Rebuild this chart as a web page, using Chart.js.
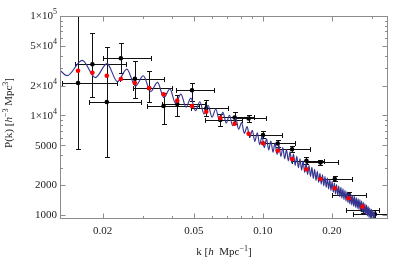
<!DOCTYPE html>
<html>
<head>
<meta charset="utf-8">
<script src="https://cdn.jsdelivr.net/npm/chart.js@4.4.1/dist/chart.umd.min.js"></script>
<style>
  html, body { margin: 0; padding: 0; background: #fff; }
</style>
</head>
<body>
<canvas id="pkChart" width="395" height="260"></canvas>
<script>
// band powers (black points with errors)
const kBins = [0.01563, 0.01805, 0.02086, 0.02402, 0.02765, 0.03192, 0.03686, 0.0423, 0.04904, 0.05662, 0.06518,
  0.07527, 0.08664, 0.1001, 0.1160, 0.1340, 0.1548, 0.1782, 0.2057, 0.2368, 0.2718, 0.3076];
const kLow = [0.01331, 0.01521, 0.01751, 0.02016, 0.02378, 0.02718, 0.03119, 0.03638, 0.04188, 0.04870, 0.05606,
  0.06518, 0.07504, 0.08664, 0.1001, 0.1162, 0.1340, 0.1559, 0.1791, 0.2010, 0.2314, 0.2458];
const kHigh = [0.02314, 0.02533, 0.02954, 0.03247, 0.03712, 0.04023, 0.05262, 0.05606, 0.06094, 0.07015, 0.08107,
  0.09175, 0.1035, 0.1210, 0.1386, 0.1600, 0.1842, 0.2135, 0.2451, 0.2801, 0.3202, 0.36];
const pData = [21210, 32700, 13670, 37570, 23430, 18760, 12460, 13050, 17910, 11760, 9008,
  9547, 9329, 6369, 5233, 4573, 3513, 3370, 2300, 1600, 1123, 1016];
const pLow = [4554, 15450, 3802, 26920, 14990, 13570, 8119, 9953, 13990, 9884, 7751,
  8214, 8603, 5873, 4824, 4249, 3254, 3180, 2171, 1499, 1047, 933];
const pHigh = [130000, 67010, 48470, 53170, 35540, 28000, 16720, 16180, 21070, 14310, 10350,
  10720, 10230, 6906, 5605, 4880, 3802, 3570, 2437, 1703, 1203, 1115];

// binned model (red points)
const kModel = [0.01563, 0.01805, 0.02086, 0.02402, 0.02765, 0.03192, 0.03686, 0.0423, 0.04904, 0.05662, 0.06518,
  0.07527, 0.08664, 0.1001, 0.1160, 0.1340, 0.1548, 0.1782, 0.2057, 0.2368, 0.2718];
const pModel = [28200, 26920, 25120, 23270, 21210, 18890, 16330, 14090, 12460, 10920, 9438,
  8271, 6563, 5257, 4427, 3654, 2879, 2300, 1855, 1472, 1212];

// oscillating model curve (peaks and troughs)
const kCurve = [0.0130, 0.0140, 0.0163, 0.0186, 0.0209, 0.0232, 0.0255, 0.0278, 0.0301, 0.0324, 0.0347,
  0.0370, 0.0393, 0.0416, 0.0439, 0.0462, 0.0485, 0.0508, 0.0531, 0.0554, 0.0577,
  0.0600, 0.0623, 0.0646, 0.0669, 0.0692, 0.0715, 0.0738, 0.0761, 0.0784, 0.0807,
  0.0830, 0.0853, 0.0876, 0.0899, 0.0922, 0.0945, 0.0968, 0.0991, 0.1014, 0.1037,
  0.1060, 0.1083, 0.1106, 0.1129, 0.1152, 0.1175, 0.1198, 0.1221, 0.1244, 0.1267,
  0.1290, 0.1313, 0.1336, 0.1359, 0.1382, 0.1405, 0.1428, 0.1451, 0.1474, 0.1497,
  0.1520, 0.1543, 0.1566, 0.1589, 0.1612, 0.1635, 0.1658, 0.1681, 0.1704, 0.1727,
  0.1750, 0.1773, 0.1796, 0.1819, 0.1842, 0.1865, 0.1888, 0.1911, 0.1934, 0.1957,
  0.1980, 0.2003, 0.2026, 0.2049, 0.2072, 0.2095, 0.2118, 0.2141, 0.2164, 0.2187,
  0.2210, 0.2233, 0.2256, 0.2279, 0.2302, 0.2325, 0.2348, 0.2371, 0.2394, 0.2417,
  0.2440, 0.2463, 0.2486, 0.2509, 0.2532, 0.2555, 0.2578, 0.2601, 0.2624, 0.2647,
  0.2670, 0.2693, 0.2716, 0.2739, 0.2762, 0.2785, 0.2808, 0.2831, 0.2854, 0.2877,
  0.2900, 0.2923, 0.2946, 0.2969, 0.2992, 0.3015, 0.3038, 0.3061, 0.3084];
const pCurve = [28700, 25130, 35790, 24020, 33230, 21910, 29220, 19750, 25100, 17410, 21540,
  15110, 18540, 13260, 16390, 12110, 14970, 11170, 13740, 10350, 12630,
  9614, 11630, 8935, 10760, 8385, 10060, 7879, 9346, 7256, 8486,
  6617, 7716, 6048, 7096, 5492, 6686, 5085, 6179, 4744, 5837,
  4507, 5546, 4282, 5267, 4068, 5006, 3869, 4761, 3680, 4530,
  3500, 4310, 3329, 4091, 3154, 3875, 2986, 3669, 2827, 3474,
  2678, 3292, 2546, 3144, 2434, 3005, 2327, 2872, 2225, 2747,
  2127, 2627, 2039, 2527, 1964, 2434, 1892, 2345, 1823, 2258,
  1756, 2176, 1691, 2096, 1631, 2025, 1576, 1957, 1524, 1891,
  1473, 1828, 1424, 1767, 1376, 1707, 1330, 1651, 1292, 1610,
  1259, 1570, 1227, 1530, 1196, 1491, 1166, 1454, 1137, 1417,
  1108, 1381, 1080, 1341, 1045, 1297, 1011, 1256, 978, 1215,
  947, 1175, 916, 1137, 890, 1110, 869, 1083, 848];

// axis ticks
const xTicks = [0.02, 0.05, 0.1, 0.2];
const xTickLabels = ['0.02', '0.05', '0.10', '0.20'];
const xMinor = [0.03, 0.04, 0.06, 0.07, 0.08, 0.09, 0.3];
const yTicks = [1000, 2000, 5000, 10000, 20000, 50000, 100000];
const yTickLabels = ['1000', '2000', '5000', '1\u00d710^4', '2\u00d710^4', '5\u00d710^4', '1\u00d710^5'];
const yMinor = [3000, 4000, 6000, 7000, 8000, 9000, 30000, 40000, 60000, 70000, 80000, 90000];

const SERIF = "'Liberation Serif', 'DejaVu Serif', serif";

// text runs: [text, 'n'|'i'|'s'] (normal, italic, superscript)
function fontFor(kind) {
  if (kind === 'i') return 'italic 11px ' + SERIF;
  if (kind === 's') return '8px ' + SERIF;
  return '11px ' + SERIF;
}
function piecesWidth(ctx, pieces) {
  let w = 0;
  pieces.forEach(p => {
    ctx.font = fontFor(p[1]);
    w += ctx.measureText(p[0]).width;
  });
  return w;
}
function drawPieces(ctx, pieces, x, y) {
  pieces.forEach(p => {
    ctx.font = fontFor(p[1]);
    ctx.fillText(p[0], x, p[1] === 's' ? y - 4.5 : y);
    x += ctx.measureText(p[0]).width;
  });
}
function labelPieces(s) {
  const parts = s.split('^');
  return parts.length > 1 ? [[parts[0], 'n'], [parts[1], 's']] : [[s, 'n']];
}

const errorBars = {
  id: 'errorBars',
  beforeDatasetsDraw(chart) {
    const { ctx, chartArea: a, scales: { x, y } } = chart;
    ctx.save();
    ctx.beginPath();
    ctx.rect(a.left, a.top, a.right - a.left, a.bottom - a.top);
    ctx.clip();
    ctx.strokeStyle = '#111';
    ctx.lineWidth = 1;
    for (let i = 0; i < kBins.length; i++) {
      const px = Math.round(x.getPixelForValue(kBins[i])) + 0.5;
      const py = Math.round(y.getPixelForValue(pData[i])) + 0.5;
      const yt = Math.round(y.getPixelForValue(pHigh[i])) + 0.5;
      const yb = Math.round(y.getPixelForValue(pLow[i])) + 0.5;
      const xl = Math.round(x.getPixelForValue(kLow[i])) + 0.5;
      const xr = Math.round(x.getPixelForValue(kHigh[i])) + 0.5;
      ctx.beginPath();
      ctx.moveTo(px, yt); ctx.lineTo(px, yb);
      ctx.moveTo(px - 2.5, yt); ctx.lineTo(px + 2.5, yt);
      ctx.moveTo(px - 2.5, yb); ctx.lineTo(px + 2.5, yb);
      ctx.moveTo(xl, py); ctx.lineTo(xr, py);
      ctx.moveTo(xl, py - 2.5); ctx.lineTo(xl, py + 2.5);
      ctx.moveTo(xr, py - 2.5); ctx.lineTo(xr, py + 2.5);
      ctx.stroke();
    }
    ctx.restore();
  }
};

const frame = {
  id: 'frame',
  afterDatasetsDraw(chart) {
    const { ctx, chartArea: a, scales: { x, y } } = chart;
    const L = Math.round(a.left) + 0.5, R = Math.round(a.right) - 0.5;
    const T = Math.round(a.top) + 0.5, B = Math.round(a.bottom) - 0.5;
    ctx.save();
    ctx.strokeStyle = '#8c8c8c';
    ctx.lineWidth = 1;
    ctx.strokeRect(L, T, R - L, B - T);

    ctx.beginPath();
    const yTick = (v, len) => {
      const py = Math.round(y.getPixelForValue(v)) + 0.5;
      ctx.moveTo(L, py); ctx.lineTo(L + len, py);
      ctx.moveTo(R, py); ctx.lineTo(R - len, py);
    };
    const xTick = (v, len) => {
      const px = Math.round(x.getPixelForValue(v)) + 0.5;
      ctx.moveTo(px, B); ctx.lineTo(px, B - len);
      ctx.moveTo(px, T); ctx.lineTo(px, T + len);
    };
    yTicks.forEach(v => yTick(v, 5));
    yMinor.forEach(v => yTick(v, 2.5));
    xTicks.forEach(v => xTick(v, 5));
    xMinor.forEach(v => xTick(v, 2.5));
    ctx.stroke();

    // tick labels
    ctx.fillStyle = '#222';
    ctx.textBaseline = 'middle';
    ctx.textAlign = 'left';
    yTicks.forEach((v, i) => {
      const pieces = labelPieces(yTickLabels[i]);
      const w = piecesWidth(ctx, pieces);
      drawPieces(ctx, pieces, 57 - w, y.getPixelForValue(v) + 0.5);
    });
    ctx.font = fontFor('n');
    ctx.textAlign = 'center';
    xTicks.forEach((v, i) => {
      ctx.fillText(xTickLabels[i], x.getPixelForValue(v), 231);
    });

    // axis titles
    ctx.textAlign = 'left';
    ctx.textBaseline = 'alphabetic';
    const xt = [['k [', 'n'], ['h', 'i'], ['  Mpc', 'n'], ['\u22121', 's'], [']', 'n']];
    const xw = piecesWidth(ctx, xt);
    drawPieces(ctx, xt, (a.left + a.right) / 2 - xw / 2, 255);

    const yt = [['P(k) [', 'n'], ['h', 'i'], ['\u22123', 's'], [' Mpc', 'n'], ['3', 's'], [']', 'n']];
    const yw = piecesWidth(ctx, yt);
    ctx.translate(12, 113);
    ctx.rotate(-Math.PI / 2);
    drawPieces(ctx, yt, -yw / 2, 0);
    ctx.restore();
  }
};

new Chart(document.getElementById('pkChart'), {
  type: 'line',
  data: {
    datasets: [
      {
        label: 'binned model',
        data: kModel.map((k, i) => ({ x: k, y: pModel[i] })),
        showLine: false,
        pointRadius: 2.3,
        pointBackgroundColor: '#f00',
        pointBorderWidth: 0
      },
      {
        label: 'model',
        data: kCurve.map((k, i) => ({ x: k, y: pCurve[i] })),
        borderColor: '#34348f',
        borderWidth: 1.15,
        pointRadius: 0,
        cubicInterpolationMode: 'monotone'
      },
      {
        label: 'measured',
        data: kBins.map((k, i) => ({ x: k, y: pData[i] })),
        showLine: false,
        pointRadius: 2.3,
        pointBackgroundColor: '#000',
        pointBorderWidth: 0
      }
    ]
  },
  options: {
    responsive: false,
    animation: false,
    layout: { padding: { left: 60, top: 16, right: 7, bottom: 41 } },
    plugins: { legend: { display: false }, tooltip: { enabled: false } },
    scales: {
      x: { type: 'logarithmic', min: 0.01304, max: 0.351, display: false },
      y: { type: 'logarithmic', min: 911, max: 100000, display: false }
    }
  },
  plugins: [errorBars, frame]
});
</script>
</body>
</html>
